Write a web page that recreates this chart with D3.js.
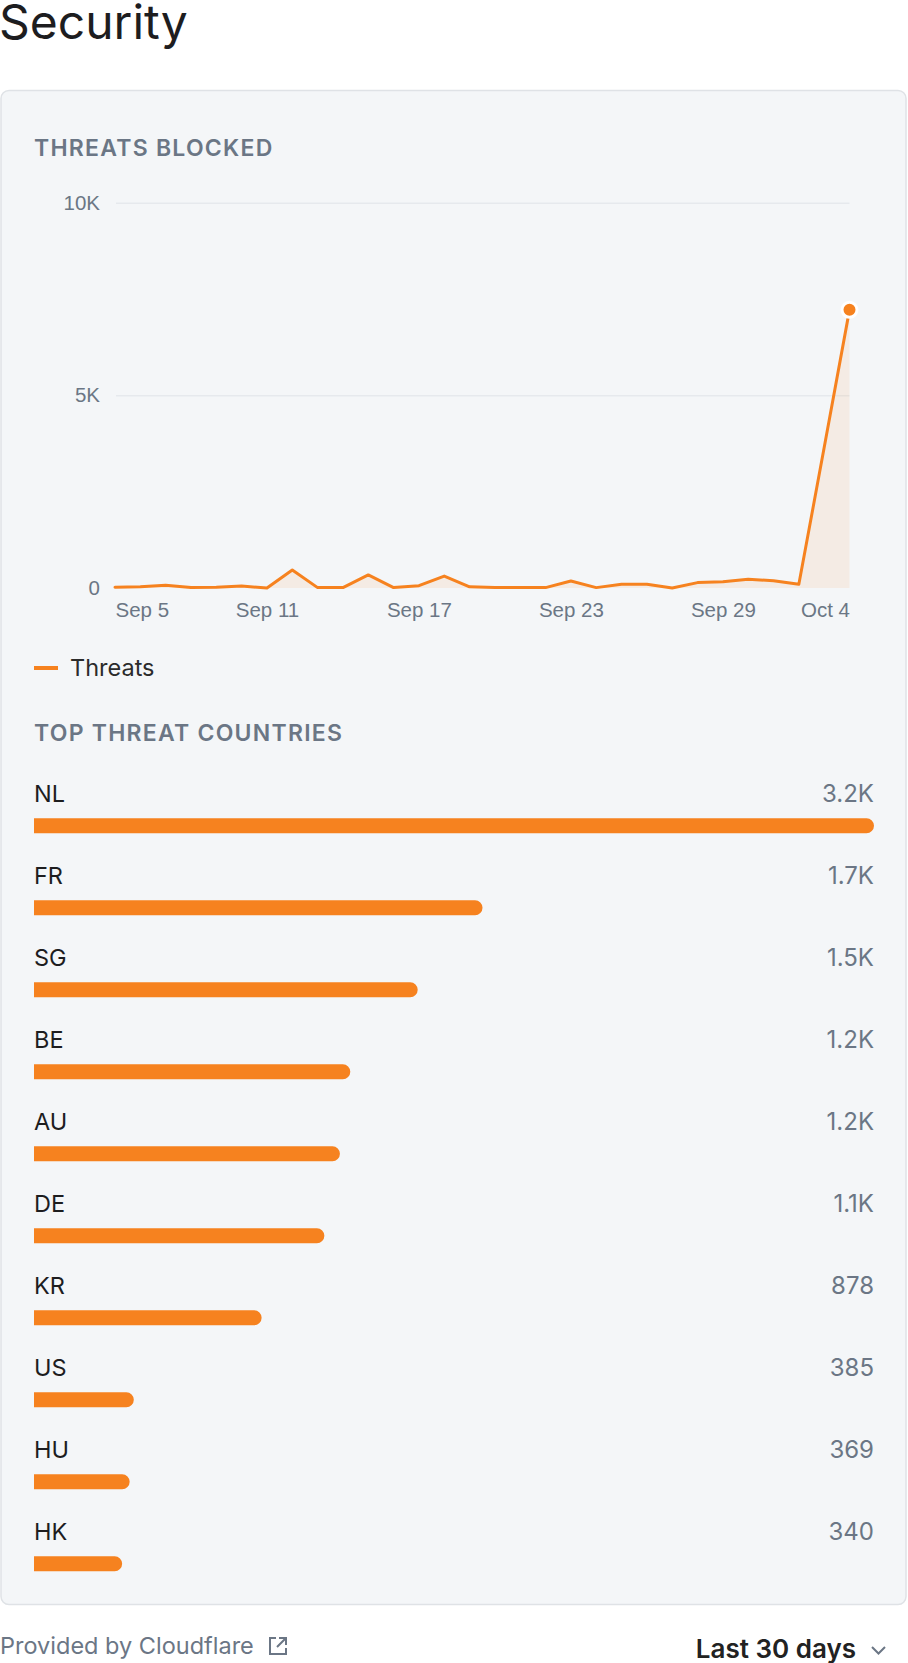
<!DOCTYPE html>
<html lang="en">
<head>
  <meta charset="UTF-8" />
  <title>Security</title>
  <script src="https://d3js.org/d3.v7.min.js"></script>
  <style>
    body {
      margin: 0;
      background: #fff;
      font-family: 'Inter', 'Noto Sans', sans-serif;
    }
    svg { display: block; }
    .title { font-size: 48px; fill: #1d1d1f; }
    .section { font-size: 23px; font-weight: 600; fill: #6b7685; letter-spacing: 1.25px; }
    .tick text { font-size: 20.5px; fill: #6b7685; }
    .legend-label { font-size: 23.5px; fill: #2b2b2b; }
    .country { font-size: 23.5px; fill: #1d1d1f; }
    .count { font-size: 24px; fill: #6b7685; }
    .footer { font-size: 23.5px; fill: #6b7685; }
    .range { font-size: 26px; font-weight: 600; fill: #222; }
  </style>
</head>
<body>
  <svg id="page"></svg>

  <script>
    // threats blocked per day, Sep 5 -> Oct 4
    const days = ["2023-09-05","2023-09-06","2023-09-07","2023-09-08","2023-09-09","2023-09-10",
      "2023-09-11","2023-09-12","2023-09-13","2023-09-14","2023-09-15","2023-09-16","2023-09-17",
      "2023-09-18","2023-09-19","2023-09-20","2023-09-21","2023-09-22","2023-09-23","2023-09-24",
      "2023-09-25","2023-09-26","2023-09-27","2023-09-28","2023-09-29","2023-09-30","2023-10-01",
      "2023-10-02","2023-10-03","2023-10-04"];
    const threats = [20, 30, 70, 10, 20, 50, 0, 470, 10, 10, 340, 10, 60, 310, 30, 10, 10, 10,
      180, 10, 95, 95, 0, 140, 165, 225, 190, 95, 3650, 7230];
    const yTicks = [0, 5000, 10000];
    const xTicks = ["2023-09-05","2023-09-11","2023-09-17","2023-09-23","2023-09-29","2023-10-04"];

    // top threat countries
    const countries = ["NL", "FR", "SG", "BE", "AU", "DE", "KR", "US", "HU", "HK"];
    const countryCounts = [3240, 1730, 1480, 1220, 1180, 1120, 878, 385, 369, 340];

    const W = 908, H = 1663;
    const orange = "#f6821f";
    const parse = d3.timeParse("%Y-%m-%d");

    const svg = d3.select("#page").attr("width", W).attr("height", H);

    svg.append("text").attr("class", "title").attr("x", -1).attr("y", 39).text("Security");

    // card
    svg.append("rect")
      .attr("x", 1).attr("y", 90.5).attr("width", 905).attr("height", 1514).attr("rx", 8)
      .attr("fill", "#f4f6f8").attr("stroke", "#dfe2e6").attr("stroke-width", 1.5);

    svg.append("text").attr("class", "section").attr("x", 34).attr("y", 156).text("THREATS BLOCKED");

    // ---- line chart ----
    const data = days.map((d, i) => ({ date: parse(d), value: threats[i] }));
    const x = d3.scaleTime()
      .domain(d3.extent(data, d => d.date))
      .range([115, 849.5]);
    const y = d3.scaleLinear().domain([0, 10000]).range([588, 203.3]);

    const kfmt = v => v === 0 ? "0" : (v / 1000) + "K";

    const yAxis = svg.append("g")
      .attr("transform", "translate(115,0)")
      .call(d3.axisLeft(y).tickValues(yTicks).tickFormat(kfmt).tickSize(0).tickPadding(15));
    yAxis.select(".domain").remove();
    yAxis.selectAll(".tick line").remove();
    yAxis.selectAll(".tick text").attr("dy", "0.3em");

    svg.append("g").selectAll("line")
      .data(yTicks.filter(t => t > 0))
      .join("line")
      .attr("x1", 116).attr("x2", 849.5)
      .attr("y1", d => y(d)).attr("y2", d => y(d))
      .attr("stroke", "#e6e9ed").attr("stroke-width", 1.5);

    const xAxis = svg.append("g")
      .attr("transform", "translate(0,588)")
      .call(d3.axisBottom(x).tickValues(xTicks.map(parse)).tickFormat(d3.timeFormat("%b %-d"))
        .tickSize(0).tickPadding(14));
    xAxis.select(".domain").remove();
    xAxis.selectAll(".tick text")
      .attr("text-anchor", (d, i, n) => i === 0 ? "start" : i === n.length - 1 ? "end" : "middle");

    svg.append("path")
      .datum(data)
      .attr("fill", orange).attr("fill-opacity", 0.09)
      .attr("d", d3.area().x(d => x(d.date)).y0(y(0)).y1(d => y(d.value)));

    svg.append("path")
      .datum(data)
      .attr("fill", "none").attr("stroke", orange).attr("stroke-width", 3)
      .attr("stroke-linejoin", "round").attr("stroke-linecap", "round")
      .attr("d", d3.line().x(d => x(d.date)).y(d => y(d.value)));

    const last = data[data.length - 1];
    svg.append("circle")
      .attr("cx", x(last.date)).attr("cy", y(last.value)).attr("r", 7.5)
      .attr("fill", orange).attr("stroke", "#fff").attr("stroke-width", 3);

    // legend
    svg.append("line").attr("x1", 34).attr("x2", 58).attr("y1", 668).attr("y2", 668)
      .attr("stroke", orange).attr("stroke-width", 4);
    svg.append("text").attr("class", "legend-label").attr("x", 70).attr("y", 676).text("Threats");

    // ---- top countries ----
    svg.append("text").attr("class", "section").attr("x", 34).attr("y", 740.5).text("TOP THREAT COUNTRIES");

    const bx = d3.scaleLinear().domain([0, d3.max(countryCounts)]).range([0, 840]);
    const rowY = d3.scalePoint().domain(countries).range([0, 82 * (countries.length - 1)]);
    const cfmt = v => v >= 1000 ? (v / 1000).toFixed(1) + "K" : String(v);
    const barH = 15, r = barH / 2;

    const rows = svg.append("g").attr("transform", "translate(34,0)")
      .selectAll("g")
      .data(countries.map((c, i) => ({ c, v: countryCounts[i] })))
      .join("g")
      .attr("transform", d => `translate(0,${rowY(d.c)})`);

    rows.append("text").attr("class", "country").attr("x", 0).attr("y", 801.5).text(d => d.c);
    rows.append("text").attr("class", "count").attr("x", 840).attr("y", 801.5)
      .attr("text-anchor", "end").text(d => cfmt(d.v));
    rows.append("path")
      .attr("fill", orange)
      .attr("d", d => {
        const w = bx(d.v), t = 818.3;
        return `M0,${t}H${w - r}A${r},${r} 0 0 1 ${w - r},${t + barH}H0Z`;
      });

    // ---- footer ----
    svg.append("text").attr("class", "footer").attr("x", 0).attr("y", 1654).text("Provided by Cloudflare");
    const ic = svg.append("g").attr("fill", "none").attr("stroke", "#6b7685").attr("stroke-width", 2)
      .attr("transform", "translate(269,1637)");
    ic.append("path").attr("d", "M7,1H1V17H17V11");
    ic.append("path").attr("d", "M10,1H17V8M17,1L8,10");

    svg.append("text").attr("class", "range").attr("x", 856).attr("y", 1658)
      .attr("text-anchor", "end").text("Last 30 days");
    svg.append("path").attr("d", "M872,1647L878.5,1653.5L885,1647")
      .attr("fill", "none").attr("stroke", "#6b7685").attr("stroke-width", 2);
  </script>
</body>
</html>
